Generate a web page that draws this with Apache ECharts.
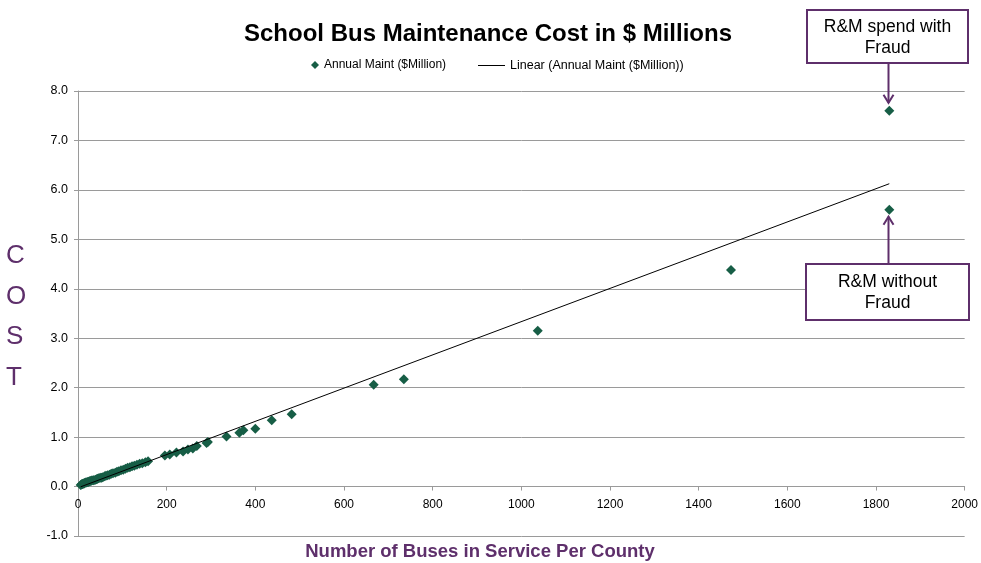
<!DOCTYPE html>
<html>
<head>
<meta charset="utf-8">
<script src="https://cdn.jsdelivr.net/npm/echarts@6/dist/echarts.min.js"></script>
<style>
  html, body { margin: 0; padding: 0; background: #ffffff; }
  #chart { width: 981px; height: 563px; }
</style>
</head>
<body>
<div id="chart"></div>
<script>
// Buses in service per county and annual maintenance spend ($ millions)
const busCounts = [
  6, 8, 9, 11, 12, 14, 15, 17, 19, 21, 23, 25, 27, 29, 31, 34, 36, 39, 42, 44,
  47, 50, 53, 56, 60, 63, 67, 71, 75, 79, 84, 88, 92, 97, 102, 107, 112, 117, 122, 127,
  133, 139, 145, 152, 158,
  196, 207, 222, 237, 248, 259, 268, 290, 293, 335, 364, 373, 400, 437, 482,
  667, 735, 1037, 1473, 1830
];
const maintCost = [
  0.03, 0.04, 0.05, 0.05, 0.06, 0.06, 0.07, 0.08, 0.08, 0.09, 0.09, 0.10, 0.11, 0.11, 0.12, 0.13, 0.13, 0.14, 0.15, 0.16,
  0.17, 0.18, 0.18, 0.19, 0.21, 0.22, 0.23, 0.24, 0.26, 0.27, 0.28, 0.30, 0.31, 0.33, 0.34, 0.36, 0.38, 0.39, 0.41, 0.42,
  0.44, 0.46, 0.47, 0.49, 0.51,
  0.63, 0.65, 0.69, 0.71, 0.75, 0.77, 0.82, 0.88, 0.90, 1.01, 1.09, 1.14, 1.17, 1.34, 1.46,
  2.06, 2.17, 3.15, 4.38, 7.60
];
// Largest county's spend once the fraudulent charges are removed
const noFraudBuses = [1830];
const noFraudCost = [5.6];

const xTicks = [0, 200, 400, 600, 800, 1000, 1200, 1400, 1600, 1800, 2000];
const yTicks = [-1, 0, 1, 2, 3, 4, 5, 6, 7, 8];

const seriesName = 'Annual Maint ($Million)';
const trendName = 'Linear (Annual Maint ($Million))';

// Ordinary least-squares fit over every plotted point, drawn across the data range
function linearFit(xs, ys) {
  const n = xs.length;
  let sx = 0, sy = 0, sxx = 0, sxy = 0;
  for (let i = 0; i < n; i++) {
    sx += xs[i]; sy += ys[i]; sxx += xs[i] * xs[i]; sxy += xs[i] * ys[i];
  }
  const slope = (n * sxy - sx * sy) / (n * sxx - sx * sx);
  const intercept = (sy - slope * sx) / n;
  return { slope, intercept };
}
const allX = busCounts.concat(noFraudBuses);
const allY = maintCost.concat(noFraudCost);
const fit = linearFit(allX, allY);
const xLo = Math.min(...allX), xHi = Math.max(...allX);
const trendPoints = [xLo, xHi].map(x => [x, fit.intercept + fit.slope * x]);

const scatterPoints = busCounts.map((b, i) => [b, maintCost[i]]);
const noFraudPoints = noFraudBuses.map((b, i) => [b, noFraudCost[i]]);

const FONT = '"Liberation Sans", Arial, sans-serif';
const PURPLE = '#5E2F6B';
const GREEN = '#175E46';
const GRID = '#9a9a9a';

const GRID_TOP = 91, GRID_BOTTOM = 27, CHART_H = 563;
const plotH = CHART_H - GRID_TOP - GRID_BOTTOM;
const yMin = yTicks[0], yMax = yTicks[yTicks.length - 1];
// lift the horizontal axis (with its labels) up to the zero line
const xAxisOffset = -plotH * (0 - yMin) / (yMax - yMin);

const chart = echarts.init(document.getElementById('chart'), null, { renderer: 'canvas' });

const option = {
  backgroundColor: '#ffffff',
  animation: false,
  textStyle: { fontFamily: FONT },
  title: {
    text: 'School Bus Maintenance Cost in $ Millions',
    left: 483, top: 17, textAlign: 'center',
    textStyle: { fontFamily: FONT, fontSize: 24, fontWeight: 'bold', color: '#000000' }
  },
  legend: [
    {
      data: [{ name: seriesName, icon: 'diamond' }],
      left: 311, top: 59, padding: 0, itemWidth: 8, itemHeight: 8, itemGap: 5,
      textStyle: { fontFamily: FONT, fontSize: 12, color: '#000000' }
    },
    {
      data: [{ name: trendName, icon: 'rect' }],
      left: 478, top: 59, padding: 0, itemWidth: 27, itemHeight: 1, itemGap: 5,
      itemStyle: { color: '#000000' },
      textStyle: { fontFamily: FONT, fontSize: 12.5, color: '#000000' }
    }
  ],
  grid: { left: 78, right: 16, top: GRID_TOP, bottom: GRID_BOTTOM, containLabel: false },
  xAxis: {
    type: 'value',
    min: xTicks[0], max: xTicks[xTicks.length - 1], interval: xTicks[1] - xTicks[0],
    offset: xAxisOffset,
    axisLine: { show: true, onZero: false, lineStyle: { color: GRID, width: 1 } },
    axisTick: { show: true, length: 4, lineStyle: { color: GRID } },
    axisLabel: { fontFamily: FONT, fontSize: 12, color: '#000000', margin: 12,
      formatter: v => String(v) },
    splitLine: { show: false }
  },
  yAxis: {
    type: 'value',
    min: yMin, max: yMax, interval: yTicks[1] - yTicks[0],
    axisLine: { show: true, onZero: false, lineStyle: { color: GRID, width: 1 } },
    axisTick: { show: true, length: 4, lineStyle: { color: GRID } },
    axisLabel: { fontFamily: FONT, fontSize: 12.5, color: '#000000', margin: 10,
      formatter: v => v.toFixed(1) },
    splitLine: { show: true, lineStyle: { color: GRID, width: 1 } }
  },
  series: [
    {
      name: seriesName,
      type: 'scatter',
      symbol: 'diamond',
      symbolSize: 10,
      itemStyle: { color: GREEN, opacity: 1 },
      data: scatterPoints,
      z: 3
    },
    {
      name: 'R&M without Fraud',
      type: 'scatter',
      symbol: 'diamond',
      symbolSize: 10,
      itemStyle: { color: GREEN, opacity: 1 },
      data: noFraudPoints,
      z: 3
    },
    {
      name: trendName,
      type: 'line',
      symbol: 'none',
      lineStyle: { color: '#000000', width: 1 },
      data: trendPoints,
      z: 4
    }
  ],
  graphic: [
    {
      type: 'text',
      left: 6, top: 236,
      style: {
        text: 'C\nO\nS\nT',
        font: '26px ' + FONT,
        fill: PURPLE,
        lineHeight: 40.5,
        align: 'center'
      }
    },
    {
      type: 'text',
      style: {
        x: 480, y: 552,
        text: 'Number of Buses in Service Per County',
        font: 'bold 18.5px ' + FONT,
        fill: PURPLE,
        align: 'center',
        verticalAlign: 'middle'
      }
    }
  ]
};
chart.setOption(option);

// Callout boxes with arrows pointing at the largest county's two values
function callout(boxX, boxY, boxW, boxH, lines, target, fromTop) {
  const tip = chart.convertToPixel({ seriesIndex: 0 }, target);
  const ax = boxX + boxW / 2 + 1;
  const tipY = fromTop ? tip[1] + 7 : tip[1] - 8;
  const baseY = fromTop ? boxY : boxY + boxH;
  const dir = fromTop ? 1 : -1;
  const stroke = { stroke: PURPLE, lineWidth: 2, fill: null };
  return [
    { type: 'line', shape: { x1: ax, y1: baseY, x2: ax, y2: tipY }, style: stroke, z: 10 },
    { type: 'polyline', shape: { points: [[ax - 5, tipY + dir * 8], [ax, tipY], [ax + 5, tipY + dir * 8]] },
      style: stroke, z: 10 },
    { type: 'rect', shape: { x: boxX, y: boxY, width: boxW, height: boxH },
      style: { fill: '#ffffff', stroke: PURPLE, lineWidth: 2 }, z: 11 },
    { type: 'text', z: 12,
      style: { x: boxX + boxW / 2, y: boxY + boxH / 2 + 1, text: lines.join('\n'),
        font: '17.5px ' + FONT, fill: '#000000', lineHeight: 21,
        align: 'center', verticalAlign: 'middle' } }
  ];
}

const graphics = option.graphic.concat(
  callout(807, 10, 161, 53, ['R&M spend with', 'Fraud'], [busCounts[busCounts.length - 1], maintCost[maintCost.length - 1]], false),
  callout(806, 264, 163, 56, ['R&M without', 'Fraud'], [noFraudBuses[0], noFraudCost[0]], true)
);
chart.setOption({ graphic: graphics }, { replaceMerge: ['graphic'] });
</script>
</body>
</html>
